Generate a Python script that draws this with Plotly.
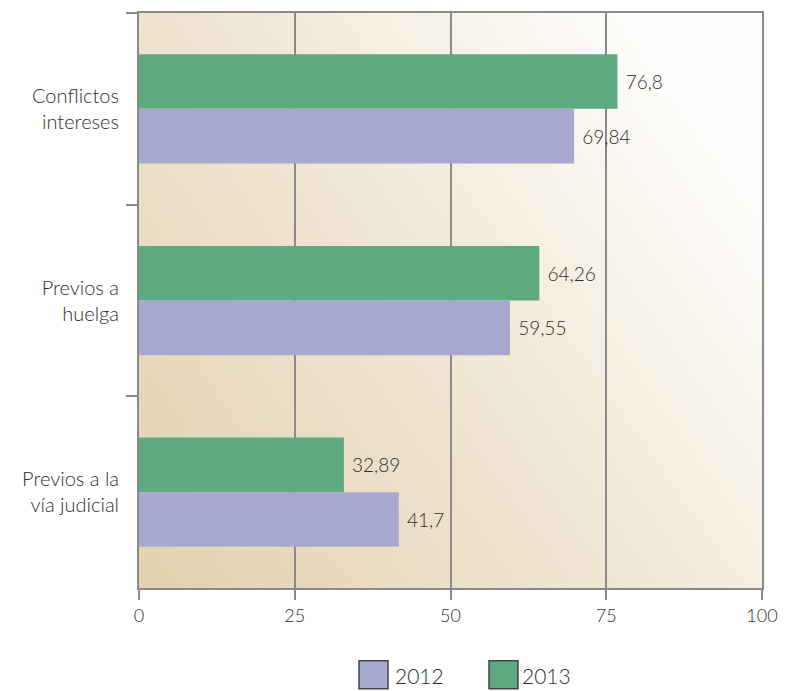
import base64
import plotly.graph_objects as go

categories = ["Conflictos<br>intereses", "Previos a<br>huelga", "Previos a la<br>vía judicial"]
values_2012 = [69.84, 59.55, 41.7]
values_2013 = [76.8, 64.26, 32.89]
colors = {"2012": "#a7a8d0", "2013": "#5daa80"}
x_ticks = [0, 25, 50, 75, 100]

def fmt(v):
    return " " + str(v).replace(".", ",")

FONT = "Lato, 'Open Sans', sans-serif"
TXT = "#2e2e2e"
GRID = "#8a8a8a"
W = 300

fig = go.Figure()
for name, vals in [("2013", values_2013), ("2012", values_2012)]:
    fig.add_trace(go.Bar(
        y=categories, x=vals, orientation="h", name=name,
        marker=dict(color=colors[name], line=dict(width=0)),
        text=[fmt(v) for v in vals], textposition="outside",
        textfont=dict(size=19, color=TXT, family=FONT, weight=W), cliponaxis=False,
        hoverinfo="skip",
    ))

svg = ('<svg xmlns="http://www.w3.org/2000/svg" width="600" height="600" preserveAspectRatio="none">'
       '<defs><linearGradient id="g" x1="0" y1="1" x2="1" y2="0.35">'
       '<stop offset="0" stop-color="#e3d1ae"/>'
       '<stop offset="0.5" stop-color="#efe4d1"/>'
       '<stop offset="1" stop-color="#fefdfb"/>'
       '</linearGradient></defs>'
       '<rect width="600" height="600" fill="url(#g)"/></svg>')
src = "data:image/svg+xml;base64," + base64.b64encode(svg.encode()).decode()

fig.update_layout(
    width=797, height=691,
    margin=dict(l=139, r=35, t=11, b=103, pad=0),
    paper_bgcolor="white", plot_bgcolor="rgba(0,0,0,0)",
    barmode="group", bargap=0.43, bargroupgap=0,
    showlegend=False,
    font=dict(family=FONT, color=TXT, size=17, weight=W),
    images=[dict(source=src, xref="x domain", yref="y domain", x=0, y=1,
                 sizex=1, sizey=1, sizing="stretch", layer="below",
                 xanchor="left", yanchor="top")],
)
fig.update_xaxes(
    range=[0, 100], tickvals=x_ticks, ticktext=[str(t) for t in x_ticks],
    showgrid=True, gridcolor=GRID, gridwidth=2,
    showline=True, linecolor=GRID, linewidth=2, mirror=True,
    ticks="outside", ticklen=10, tickwidth=2, tickcolor=GRID,
    tickfont=dict(size=18, color=TXT, family=FONT, weight=W), zeroline=False,
)
fig.update_yaxes(
    autorange="reversed", categoryorder="array", categoryarray=categories,
    showline=True, linecolor=GRID, linewidth=2, mirror=True,
    ticks="outside", tickson="boundaries", ticklen=11, tickwidth=2, tickcolor=GRID,
    tickfont=dict(size=20, color=TXT, family=FONT, weight=W), ticklabelstandoff=14,
    showgrid=False,
)

# Custom legend (large swatches)
plot_l, plot_w, plot_b, plot_h = 139, 623, 588, 577
def px(x):
    return (x - plot_l) / plot_w
def py(y):
    return (plot_b - y) / plot_h

legend_items = [("2012", 359, 393), ("2013", 489, 520)]
for name, sx, tx in legend_items:
    fig.add_shape(type="rect", xref="paper", yref="paper",
                  x0=px(sx), x1=px(sx + 29), y0=py(689), y1=py(661),
                  fillcolor=colors[name], line=dict(color="#444444", width=1.5))
    fig.add_annotation(xref="paper", yref="paper", x=px(tx), y=py(676),
                       text=name, showarrow=False, xanchor="left", yanchor="middle",
                       font=dict(size=21, color=TXT, family=FONT, weight=W))

fig.write_html("out.html", config={"displayModeBar": False},
               post_script="document.body.style.margin='0';")
